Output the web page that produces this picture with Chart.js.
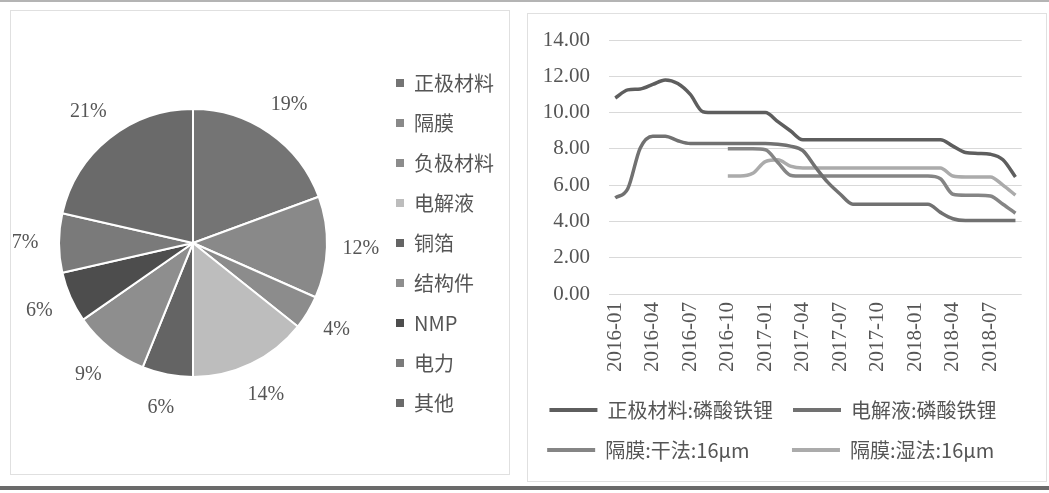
<!DOCTYPE html>
<html>
<head>
<meta charset="utf-8">
<script src="https://cdn.jsdelivr.net/npm/chart.js@4.4.0/dist/chart.umd.min.js"></script>
<style>
  body { margin: 0; width: 1049px; height: 493px; background: #fff; position: relative; overflow: hidden; }
  .frame { position: absolute; border: 1px solid #e0e0e0; }
  #pieBox { position: absolute; left: 0; top: 0; width: 520px; height: 486px; }
  #lineBox { position: absolute; left: 520px; top: 0; width: 529px; height: 486px; }
  #topRule { position: absolute; left: 0; top: 0; width: 1049px; height: 2px; background: #b4b4b4; }
  #bottomRule { position: absolute; left: 0; top: 486px; width: 1049px; height: 4px; background: #6a6a6a; }
</style>
</head>
<body>
<div id="topRule"></div>
<div class="frame" style="left:10px;top:10px;width:498px;height:463px;"></div>
<div class="frame" style="left:527px;top:13px;width:518px;height:467px;"></div>
<div id="pieBox"><canvas id="pie"></canvas></div>
<div id="lineBox"><canvas id="line"></canvas></div>
<div id="bottomRule"></div>
<script>
// cost structure (pie)
const costLabels = ["正极材料", "隔膜", "负极材料", "电解液", "铜箔", "结构件", "NMP", "电力", "其他"];
const costShares = [19, 12, 4, 14, 6, 9, 6, 7, 21];
const sliceColors = ["#747474", "#898989", "#8c8c8c", "#bdbdbd", "#646464", "#8e8e8e", "#4d4d4d", "#7a7a7a", "#6a6a6a"];

// price trends (line)
const months = ["2016-01", "2016-02", "2016-03", "2016-04", "2016-05", "2016-06", "2016-07", "2016-08", "2016-09",
  "2016-10", "2016-11", "2016-12", "2017-01", "2017-02", "2017-03", "2017-04", "2017-05", "2017-06", "2017-07",
  "2017-08", "2017-09", "2017-10", "2017-11", "2017-12", "2018-01", "2018-02", "2018-03", "2018-04", "2018-05",
  "2018-06", "2018-07", "2018-08", "2018-09"];
const cathodeLfp = [10.8, 11.25, 11.3, 11.55, 11.8, 11.6, 11.0, 10.05, 10.0, 10.0, 10.0, 10.0, 10.0, 9.5, 9.0,
  8.5, 8.5, 8.5, 8.5, 8.5, 8.5, 8.5, 8.5, 8.5, 8.5, 8.5, 8.5, 8.15, 7.8, 7.75, 7.7, 7.4, 6.45];
const electrolyteLfp = [5.3, 5.8, 8.05, 8.7, 8.7, 8.45, 8.3, 8.3, 8.3, 8.3, 8.3, 8.3, 8.3, 8.25, 8.15, 7.9,
  7.0, 6.15, 5.5, 4.95, 4.95, 4.95, 4.95, 4.95, 4.95, 4.95, 4.5, 4.15, 4.05, 4.05, 4.05, 4.05, 4.05];
const sepDry = [null, null, null, null, null, null, null, null, null, 8.0, 8.0, 8.0, 7.95, 7.25, 6.55,
  6.5, 6.5, 6.5, 6.5, 6.5, 6.5, 6.5, 6.5, 6.5, 6.5, 6.5, 6.35, 5.5, 5.45, 5.45, 5.4, 4.95, 4.45];
const sepWet = [null, null, null, null, null, null, null, null, null, 6.5, 6.5, 6.65, 7.3, 7.4, 7.05,
  6.95, 6.95, 6.95, 6.95, 6.95, 6.95, 6.95, 6.95, 6.95, 6.95, 6.95, 6.95, 6.5, 6.45, 6.45, 6.45, 6.0, 5.45];
const seriesNames = ["正极材料:磷酸铁锂", "电解液:磷酸铁锂", "隔膜:干法:16μm", "隔膜:湿法:16μm"];
const lineColors = ["#5e5e5e", "#717171", "#858585", "#ababab"];

const textGray = "#555";
const serif = '"Liberation Serif", "Times New Roman", serif';
const cjk = '"Noto Sans CJK SC", "Noto Sans", sans-serif';

// percent labels outside the pie
const pctLabels = {
  id: "pctLabels",
  afterDatasetsDraw(chart) {
    const ctx = chart.ctx;
    const meta = chart.getDatasetMeta(0);
    ctx.save();
    ctx.font = "20px " + serif;
    ctx.fillStyle = textGray;
    ctx.textAlign = "center";
    ctx.textBaseline = "middle";
    meta.data.forEach((arc, i) => {
      const p = arc.getProps(["x", "y", "startAngle", "endAngle", "outerRadius"], true);
      const mid = (p.startAngle + p.endAngle) / 2;
      const r = p.outerRadius + 34;
      ctx.fillText(costShares[i] + "%", p.x + Math.cos(mid) * r, p.y + Math.sin(mid) * r);
    });
    ctx.restore();
  }
};

new Chart(document.getElementById("pie"), {
  type: "pie",
  data: {
    labels: costLabels,
    datasets: [{ data: costShares, backgroundColor: sliceColors, borderColor: "#fff", borderWidth: 2 }]
  },
  options: {
    responsive: true,
    maintainAspectRatio: false,
    animation: false,
    radius: 134,
    layout: { padding: { left: 10, right: 16, top: 0, bottom: 0 } },
    plugins: {
      legend: {
        position: "right",
        labels: {
          boxWidth: 8, boxHeight: 8, padding: 20, color: textGray,
          font: { family: cjk, size: 20 },
          generateLabels(chart) {
            const items = Chart.overrides.pie.plugins.legend.labels.generateLabels(chart);
            items.forEach(it => { it.lineWidth = 0; });
            return items;
          }
        }
      },
      tooltip: { enabled: false }
    }
  },
  plugins: [pctLabels]
});

// line legend: pad texts so the two columns line up
function lineLegendLabels(chart) {
  const items = Chart.defaults.plugins.legend.labels.generateLabels(chart);
  const ctx = chart.ctx;
  ctx.save();
  ctx.font = "20px " + cjk;
  const w = items.map(it => ctx.measureText(it.text).width);
  items.forEach((it, i) => {
    const target = Math.max(w[i % 2], w[i % 2 + 2]);
    let t = it.text, n = 0;
    while (ctx.measureText(t).width < target - 1 && n < 40) { t += " "; n++; }
    it.text = t;
    it.fillStyle = lineColors[i];
    it.strokeStyle = lineColors[i];
    it.lineWidth = 0;
  });
  ctx.restore();
  return items;
}

new Chart(document.getElementById("line"), {
  type: "line",
  data: {
    labels: months,
    datasets: [
      { label: seriesNames[0], data: cathodeLfp, borderColor: lineColors[0], backgroundColor: lineColors[0] },
      { label: seriesNames[1], data: electrolyteLfp, borderColor: lineColors[1], backgroundColor: lineColors[1] },
      { label: seriesNames[2], data: sepDry, borderColor: lineColors[2], backgroundColor: lineColors[2] },
      { label: seriesNames[3], data: sepWet, borderColor: lineColors[3], backgroundColor: lineColors[3] }
    ]
  },
  options: {
    responsive: true,
    maintainAspectRatio: false,
    animation: false,
    layout: { padding: { left: 0, right: 23, top: 40, bottom: 16 } },
    elements: {
      point: { radius: 0 },
      line: { borderWidth: 3.5, cubicInterpolationMode: "monotone" }
    },
    scales: {
      x: {
        offset: true,
        grid: { display: false, drawTicks: false },
        border: { display: false },
        ticks: {
          autoSkip: false, minRotation: 90, maxRotation: 90, padding: 8,
          color: textGray, font: { family: serif, size: 21 },
          callback: (v, i) => (i % 3 === 0 ? months[i] : "")
        }
      },
      y: {
        min: 0, max: 14,
        afterFit: s => { s.width = 89; },
        grid: { color: "#d9d9d9", drawTicks: false },
        border: { display: false },
        ticks: {
          stepSize: 2, padding: 19, color: textGray,
          font: { family: serif, size: 21 },
          callback: v => v.toFixed(2)
        }
      }
    },
    plugins: {
      legend: {
        position: "bottom",
        labels: {
          boxWidth: 48, boxHeight: 4, padding: 20, color: textGray,
          font: { family: cjk, size: 20 },
          generateLabels: lineLegendLabels
        }
      },
      tooltip: { enabled: false }
    }
  }
});
</script>
</body>
</html>
